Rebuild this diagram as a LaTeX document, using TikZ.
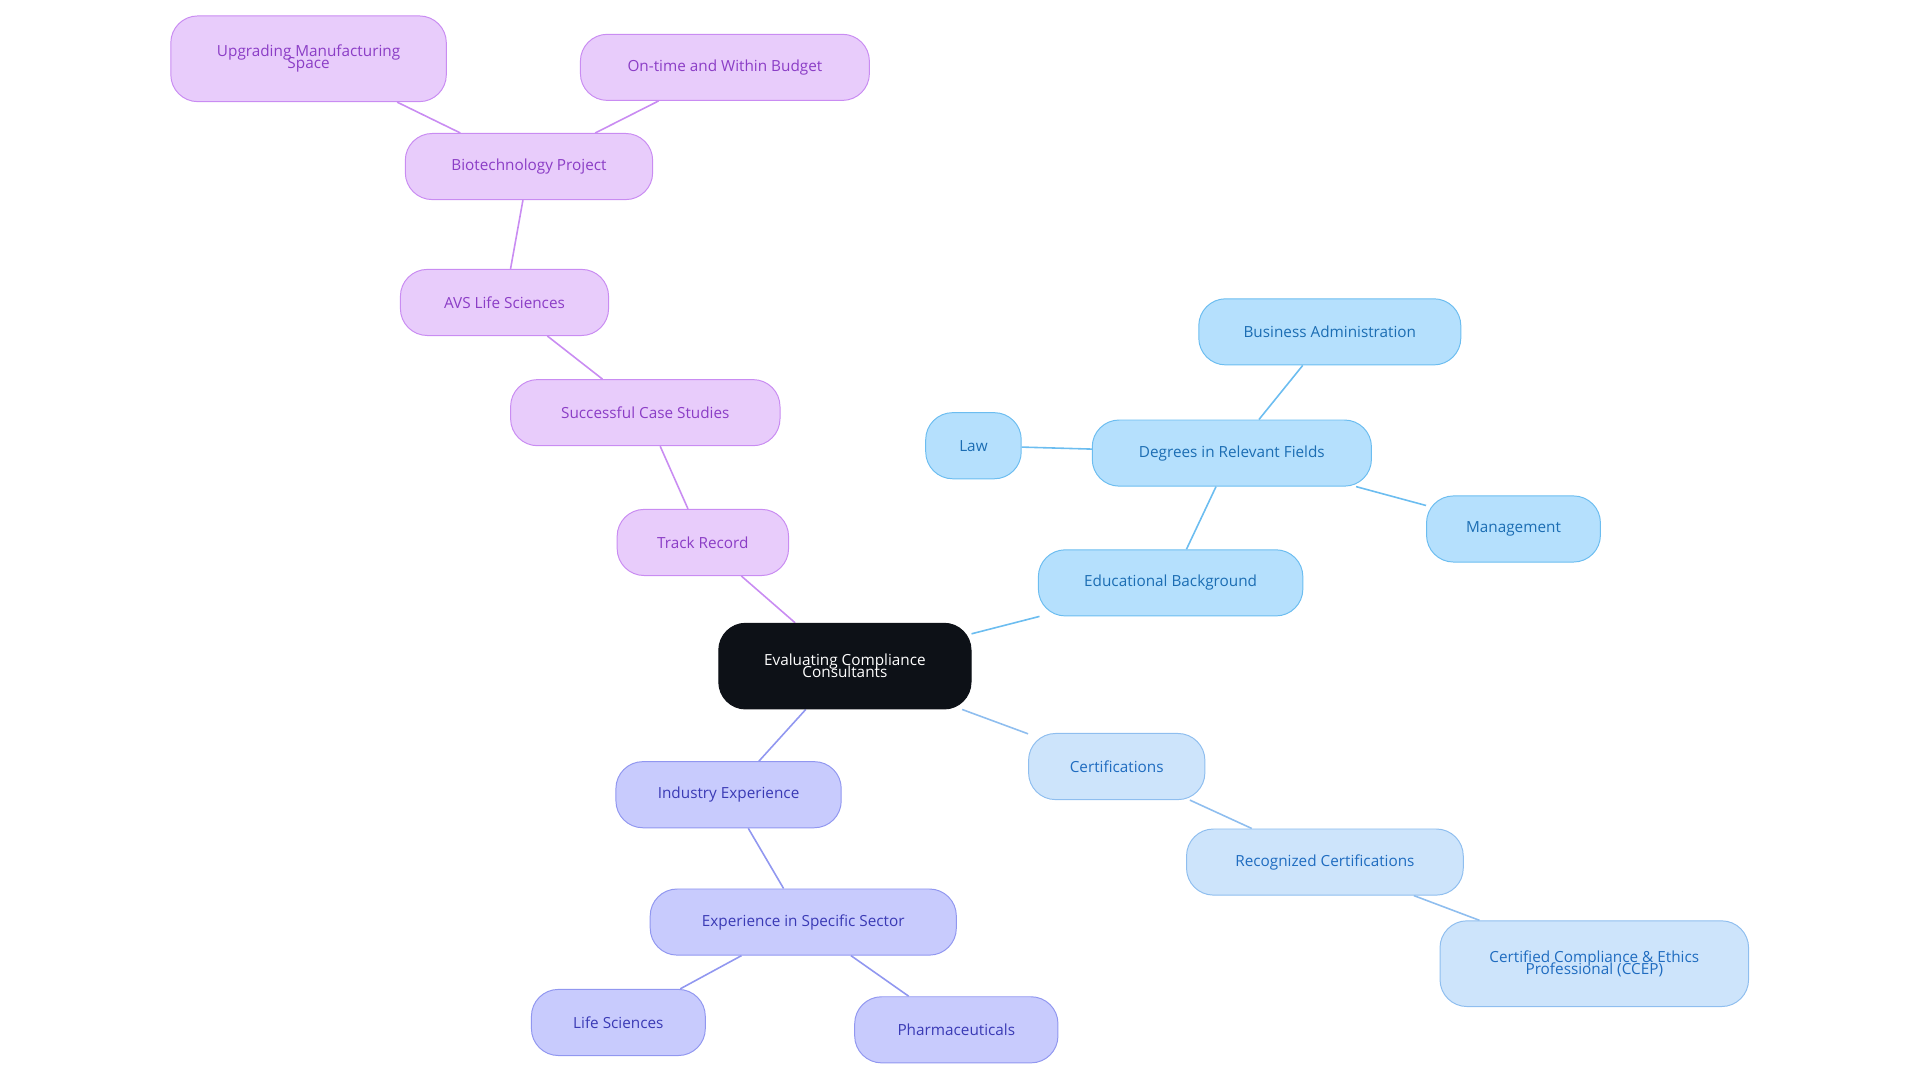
\documentclass[tikz,border=0pt]{standalone}
\usepackage{fontspec}
\setmainfont{Open Sans}
\usetikzlibrary{backgrounds}
\definecolor{pf}{HTML}{E8CCFB}\definecolor{pb}{HTML}{C98CF2}\definecolor{pt}{HTML}{8B3DC6}
\definecolor{bf}{HTML}{B5E0FD}\definecolor{bb}{HTML}{6CBDF0}\definecolor{bt}{HTML}{1B6DB3}
\definecolor{lf}{HTML}{CDE4FB}\definecolor{lb}{HTML}{8FBEEF}\definecolor{lt}{HTML}{1F6CC0}
\definecolor{if}{HTML}{C8CBFD}\definecolor{ib}{HTML}{9197F0}\definecolor{it}{HTML}{3A3AB5}
\definecolor{cf}{HTML}{0D1117}
\tikzset{
 x=1pt,y=-1pt,
 nb/.style={rounded corners=22pt,draw,line width=0.8pt,align=center,font=\fontsize{12.5}{13}\selectfont,minimum height=54pt,inner sep=2pt},
 pn/.style={nb,fill=pf,draw=pb,text=pt},
 bn/.style={nb,fill=bf,draw=bb,text=bt},
 ln/.style={nb,fill=lf,draw=lb,text=lt},
 inn/.style={nb,fill=if,draw=ib,text=it},
 pe/.style={draw=pb,line width=1.3pt},
 be/.style={draw=bb,line width=1.3pt},
 le/.style={draw=lb,line width=1.3pt},
 ie/.style={draw=ib,line width=1.3pt},
}
\begin{document}
\begin{tikzpicture}
\useasboundingbox (0,0) rectangle (1568,884);
\node[nb,fill=cf,draw=cf,text=white,minimum width=206pt,minimum height=70pt] (c) at (690,544) {Evaluating Compliance\\[-3pt]Consultants};
\node[pn,minimum width=140pt] (tr) at (574,443) {Track Record};
\node[pn,minimum width=220pt] (sc) at (527,337) {Successful Case Studies};
\node[pn,minimum width=170pt] (avs) at (412,247) {AVS Life Sciences};
\node[pn,minimum width=202pt] (bio) at (432,136) {Biotechnology Project};
\node[pn,minimum width=225pt,minimum height=70pt] (up) at (252,48) {Upgrading Manufacturing\\[-3pt]Space};
\node[pn,minimum width=236pt] (ot) at (592,55) {On-time and Within Budget};
\node[bn,minimum width=216pt] (eb) at (956,476) {Educational Background};
\node[bn,minimum width=228pt] (dg) at (1006,370) {Degrees in Relevant Fields};
\node[bn,minimum width=78pt] (law) at (795,364) {Law};
\node[bn,minimum width=214pt] (ba) at (1086,271) {Business Administration};
\node[bn,minimum width=142pt] (mg) at (1236,432) {Management};
\node[ln,minimum width=144pt] (ce) at (912,626) {Certifications};
\node[ln,minimum width=226pt] (rc) at (1082,704) {Recognized Certifications};
\node[ln,minimum width=252pt,minimum height=70pt] (cc) at (1302,787) {Certified Compliance \& Ethics\\[-3pt]Professional (CCEP)};
\node[inn,minimum width=184pt] (ie) at (595,649) {Industry Experience};
\node[inn,minimum width=250pt] (es) at (656,753) {Experience in Specific Sector};
\node[inn,minimum width=142pt] (ls) at (505,835) {Life Sciences};
\node[inn,minimum width=166pt] (ph) at (781,841) {Pharmaceuticals};
\begin{scope}[on background layer]
\draw[pe] (c) -- (tr); \draw[pe] (tr) -- (sc); \draw[pe] (sc) -- (avs); \draw[pe] (avs) -- (bio);
\draw[pe] (bio) -- (up); \draw[pe] (bio) -- (ot);
\draw[be] (c) -- (eb); \draw[be] (eb) -- (dg); \draw[be] (dg) -- (law); \draw[be] (dg) -- (ba); \draw[be] (dg) -- (mg);
\draw[le] (c) -- (ce); \draw[le] (ce) -- (rc); \draw[le] (rc) -- (cc);
\draw[ie] (c) -- (ie); \draw[ie] (ie) -- (es); \draw[ie] (es) -- (ls); \draw[ie] (es) -- (ph);
\end{scope}
\end{tikzpicture}
\end{document}
